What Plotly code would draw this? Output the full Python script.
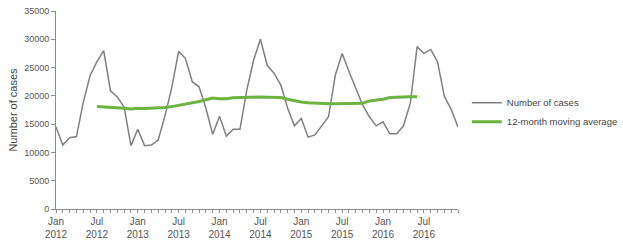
import plotly.graph_objects as go

# Monthly index 0 = Jan 2012 ... 59 = Dec 2016
months = list(range(60))

cases = [14500, 11300, 12600, 12800, 18800, 23600, 26000, 28000, 20900, 19800,
         18000, 11200, 14100, 11200, 11300, 12200, 16500, 21500, 27900, 26600,
         22500, 21600, 17800, 13200, 16400, 12900, 14100, 14100, 21000, 26300,
         30000, 25400, 24000, 21900, 17800, 14700, 16000, 12700, 13100, 14700,
         16300, 23700, 27500, 24300, 21300, 18400, 16300, 14700, 15400, 13300,
         13300, 14700, 18700, 28700, 27500, 28200, 26000, 19900, 17600, 14500]

ma_months = list(range(6, 54))
moving_avg = [18100, 18050, 18000, 17900, 17800, 17700, 17800, 17750, 17800, 17900,
              17950, 18100, 18300, 18500, 18700, 19000, 19300, 19600, 19500, 19500,
              19650, 19700, 19750, 19850, 19800, 19750, 19700, 19700, 19400, 19100,
              18900, 18800, 18700, 18650, 18600, 18600, 18600, 18600, 18650, 18700,
              19100, 19200, 19400, 19700, 19700, 19800, 19850, 19850]

tick_text = ["Jan<br>2012", "Jul<br>2012", "Jan<br>2013", "Jul<br>2013", "Jan<br>2014",
             "Jul<br>2014", "Jan<br>2015", "Jul<br>2015", "Jan<br>2016", "Jul<br>2016"]
tick_vals = [0, 6, 12, 18, 24, 30, 36, 42, 48, 54]

y_ticks = [0, 5000, 10000, 15000, 20000, 25000, 30000, 35000]
y_tick_text = ["0", "5000", "10000", "15000", "20000", "25000", "30000", "35000"]

fig = go.Figure()
fig.add_trace(go.Scatter(x=months, y=cases, mode="lines", name="Number of cases",
                         line=dict(color="#808080", width=1.5)))
fig.add_trace(go.Scatter(x=ma_months, y=moving_avg, mode="lines",
                         name="12-month moving average",
                         line=dict(color="#6cb33f", width=3)))

axis_color = "#8c8c8c"
fig.update_layout(
    width=623, height=243,
    margin=dict(l=56, r=165, t=11, b=34, autoexpand=False),
    paper_bgcolor="white", plot_bgcolor="white",
    font=dict(family="Liberation Sans, Arial, sans-serif", size=10, color="#555555"),
    showlegend=True,
    legend=dict(x=1.022, y=0.61, xanchor="left", yanchor="top",
                font=dict(size=9.5, color="#444444"), bgcolor="rgba(0,0,0,0)",
                tracegroupgap=0, itemwidth=30),
    xaxis=dict(range=[0, 59], tickmode="array", tickvals=tick_vals, ticktext=tick_text,
               ticks="outside", ticklen=3, tickcolor=axis_color, showgrid=False,
               zeroline=False, showline=True, linecolor=axis_color, linewidth=1,
               minor=dict(dtick=1, tick0=0, ticks="outside", ticklen=3,
                          tickcolor=axis_color, showgrid=False),
               tickfont=dict(size=10, color="#555555")),
    yaxis=dict(range=[0, 35000], tickmode="array", tickvals=y_ticks, ticktext=y_tick_text,
               ticks="outside", ticklen=4,
               tickcolor=axis_color, showgrid=False, zeroline=False, showline=True,
               linecolor=axis_color, linewidth=1,
               title=dict(text="Number of cases", font=dict(size=11, color="#444444"),
                          standoff=4),
               tickfont=dict(size=9, color="#555555")),
)

fig.write_html("out.html")
